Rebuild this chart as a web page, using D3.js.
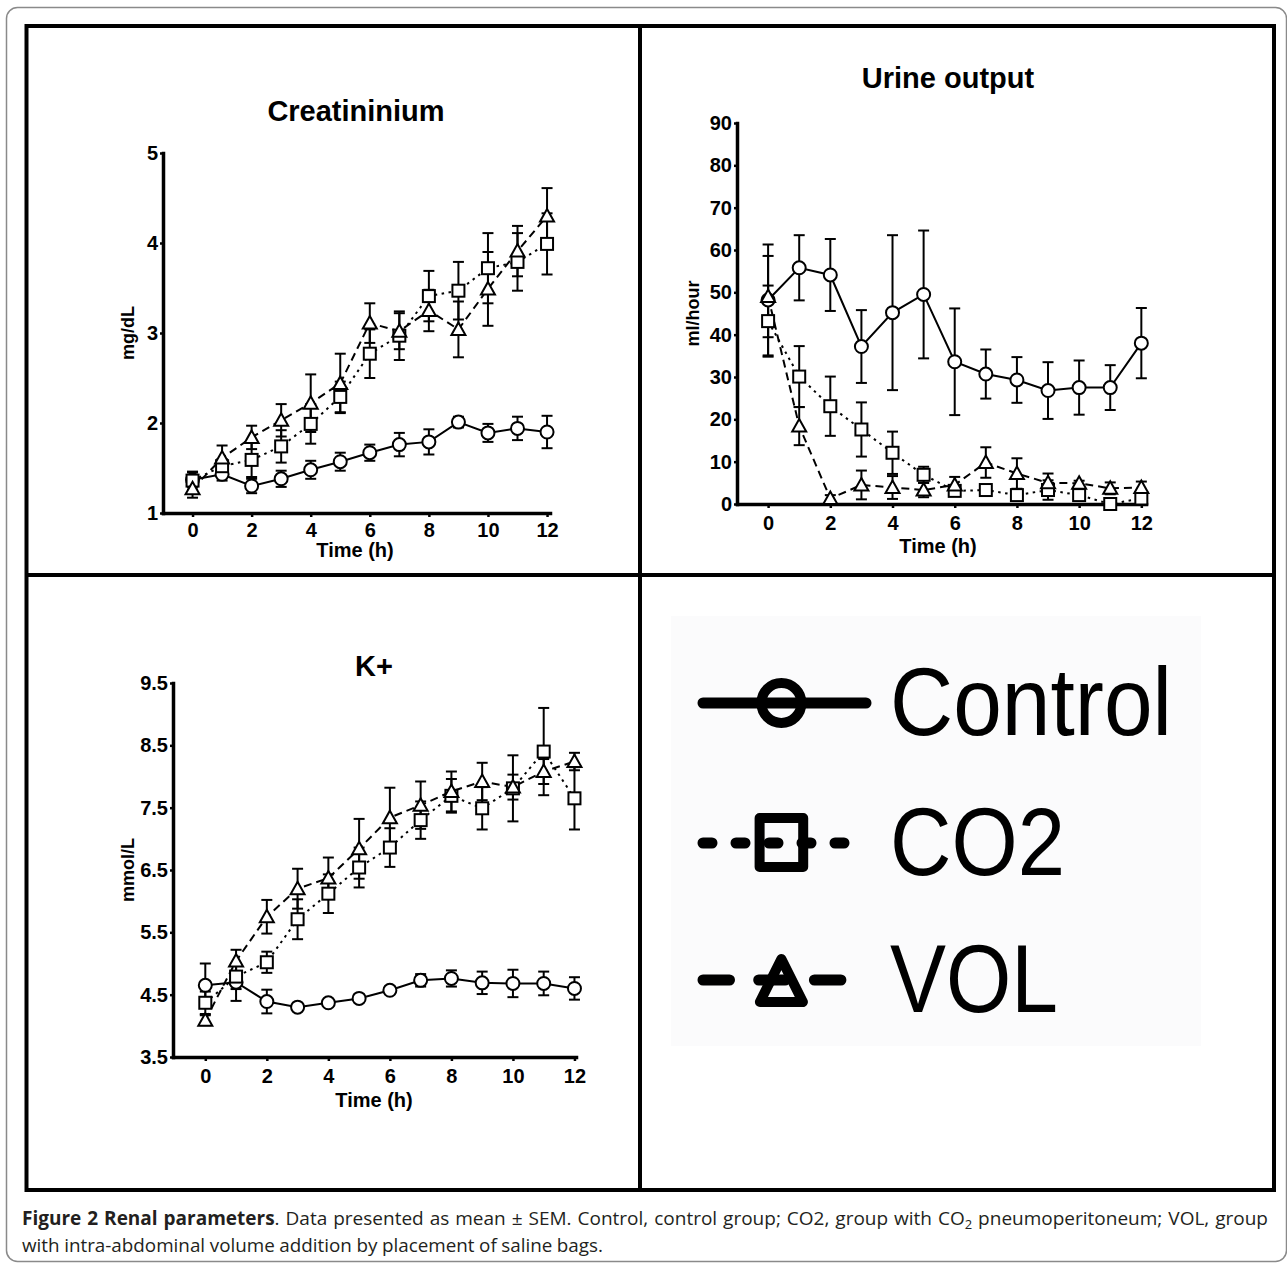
<!DOCTYPE html>
<html>
<head>
<meta charset="utf-8">
<script src="https://cdn.jsdelivr.net/npm/d3@7"></script>
<style>
  body { margin: 0; background: #fff; }
  svg { display: block; }
  .axis .domain { stroke: #000; stroke-width: 3.5; stroke-linecap: square; }
  .axis .tick line { stroke: #000; stroke-width: 2.5; }
  .axis text { font-family: "Liberation Sans", Arial, sans-serif; font-weight: bold; font-size: 20px; fill: #000; }
</style>
</head>
<body>
<div id="chart"></div>
<script>
// hours after start
var hours = [0, 1, 2, 3, 4, 5, 6, 7, 8, 9, 10, 11, 12];
var groups = ["Control", "CO2", "VOL"];

// Creatininium (mg/dL), mean and SEM
var creatControl    = [1.37, 1.43, 1.30, 1.38, 1.48, 1.57, 1.67, 1.76, 1.79, 2.01, 1.89, 1.94, 1.90];
var creatControlSem = [0.08, 0.07, 0.08, 0.09, 0.10, 0.10, 0.09, 0.13, 0.14, 0.06, 0.10, 0.13, 0.18];
var creatCO2        = [1.36, 1.52, 1.59, 1.74, 1.99, 2.29, 2.77, 2.97, 3.41, 3.47, 3.72, 3.79, 3.99];
var creatCO2Sem     = [0.10, 0.08, 0.19, 0.18, 0.22, 0.17, 0.27, 0.27, 0.28, 0.32, 0.39, 0.32, 0.34];
var creatVOL        = [1.27, 1.61, 1.84, 2.03, 2.22, 2.44, 3.11, 3.02, 3.25, 3.04, 3.49, 3.91, 4.30];
var creatVOLSem     = [0.10, 0.14, 0.13, 0.18, 0.32, 0.33, 0.22, 0.20, 0.23, 0.31, 0.41, 0.28, 0.31];

// Urine output (ml/hour)
var urineControl    = [48.2, 55.8, 54.1, 37.2, 45.2, 49.5, 33.6, 30.7, 29.3, 26.8, 27.5, 27.5, 38.0];
var urineControlSem = [13.1, 7.7, 8.5, 8.6, 18.3, 15.1, 12.6, 5.8, 5.4, 6.7, 6.4, 5.3, 8.3];
var urineCO2        = [43.2, 30.1, 23.1, 17.6, 12.1, 6.9, 3.1, 3.3, 2.1, 3.3, 2.1, 0.0, 1.3];
var urineCO2Sem     = [8.4, 7.2, 7.0, 6.4, 5.0, 1.9, 1.2, 0.8, 1.0, 2.3, 1.3, 0.4, 0.8];
var urineVOL        = [49.0, 18.4, 1.3, 4.5, 3.9, 3.3, 4.5, 9.8, 7.2, 5.0, 4.9, 3.7, 3.9];
var urineVOLSem     = [9.6, 4.5, 0.8, 3.4, 2.7, 1.7, 1.9, 3.6, 3.6, 2.2, 0.6, 1.4, 1.4];

// K+ (mmol/L)
var kControl    = [4.65, 4.70, 4.39, 4.30, 4.37, 4.44, 4.57, 4.73, 4.76, 4.69, 4.68, 4.68, 4.60];
var kControlSem = [0.35, 0.30, 0.19, 0.03, 0.03, 0.06, 0.06, 0.10, 0.13, 0.18, 0.22, 0.19, 0.18];
var kCO2        = [4.37, 4.79, 5.02, 5.71, 6.12, 6.54, 6.86, 7.30, 7.69, 7.49, 7.81, 8.40, 7.65];
var kCO2Sem     = [0.18, 0.20, 0.17, 0.32, 0.31, 0.32, 0.31, 0.30, 0.27, 0.34, 0.53, 0.70, 0.50];
var kVOL        = [4.09, 5.04, 5.75, 6.20, 6.37, 6.84, 7.34, 7.54, 7.76, 7.92, 7.83, 8.08, 8.24];
var kVOLSem     = [0.08, 0.18, 0.27, 0.32, 0.33, 0.48, 0.48, 0.38, 0.32, 0.30, 0.20, 0.20, 0.14];

var xTicks = [0, 2, 4, 6, 8, 10, 12];
var creatTicks = [1, 2, 3, 4, 5];
var urineTicks = [0, 10, 20, 30, 40, 50, 60, 70, 80, 90];
var kTicks = [3.5, 4.5, 5.5, 6.5, 7.5, 8.5, 9.5];

var FONT = "'Liberation Sans', Arial, sans-serif";
var W = 1287, H = 1263;
var svg = d3.select("#chart").append("svg")
    .attr("width", W)
    .attr("height", H);

svg.append("rect").attr("width", W).attr("height", H).attr("fill", "#fff");

// grey rounded outline of the figure box
svg.append("rect")
    .attr("x", 6.5).attr("y", 7.5)
    .attr("width", 1280).attr("height", 1254)
    .attr("rx", 11)
    .attr("fill", "none")
    .attr("stroke", "#8a8a8a")
    .attr("stroke-width", 1.5);

// the black panel frame
var frame = svg.append("g").attr("stroke", "#000").attr("stroke-width", 4).attr("fill", "none");
frame.append("rect").attr("x", 26.5).attr("y", 26).attr("width", 1247.5).attr("height", 1164);
frame.append("line").attr("x1", 640).attr("x2", 640).attr("y1", 26).attr("y2", 1190);
frame.append("line").attr("x1", 26.5).attr("x2", 1274).attr("y1", 575).attr("y2", 575);

var styles = {
    Control: { dash: null, marker: "circle" },
    CO2: { dash: "2.5,4.5", marker: "square" },
    VOL: { dash: "8,5", marker: "triangle" }
};

function drawMarker(sel, type, cx, cy) {
    if (type === "circle") {
        sel.append("circle").attr("cx", cx).attr("cy", cy).attr("r", 6.5);
    } else if (type === "square") {
        sel.append("rect").attr("x", cx - 6).attr("y", cy - 6).attr("width", 12).attr("height", 12);
    } else {
        sel.append("path").attr("d", "M" + cx + "," + (cy - 7) + "L" + (cx + 7) + "," + (cy + 5.5) + "L" + (cx - 7) + "," + (cy + 5.5) + "Z");
    }
}

function drawPanel(p) {
    var g = svg.append("g");
    var x = d3.scaleLinear().domain(p.xDomain).range(p.xRange);
    var y = d3.scaleLinear().domain(p.yDomain).range(p.yRange);

    g.append("g")
        .attr("class", "axis")
        .attr("transform", "translate(" + p.xRange[0] + ",0)")
        .call(d3.axisLeft(y).tickValues(p.yTicks).tickFormat(p.fmt).tickSize(3).tickSizeOuter(0).tickPadding(2));

    g.append("g")
        .attr("class", "axis")
        .attr("transform", "translate(0," + p.yRange[0] + ")")
        .call(d3.axisBottom(x).tickValues(xTicks).tickFormat(d3.format("d")).tickSize(4).tickSizeOuter(0).tickPadding(p.xPad));

    g.append("text")
        .attr("x", p.titleX).attr("y", p.titleY)
        .attr("text-anchor", "middle")
        .attr("font-family", FONT)
        .attr("font-weight", "bold")
        .attr("font-size", 29)
        .text(p.title);

    g.append("text")
        .attr("x", p.timeX).attr("y", p.timeY)
        .attr("text-anchor", "middle")
        .attr("font-family", FONT)
        .attr("font-weight", "bold")
        .attr("font-size", 20)
        .text("Time (h)");

    var yMid = (p.yRange[0] + p.yRange[1]) / 2;
    g.append("text")
        .attr("transform", "translate(" + p.yLabelX + "," + yMid + ") rotate(-90)")
        .attr("text-anchor", "middle")
        .attr("font-family", FONT)
        .attr("font-weight", "bold")
        .attr("font-size", 18)
        .text(p.yLabel);

    var line = d3.line()
        .x(function(d) { return x(d.h); })
        .y(function(d) { return y(d.v); });

    p.series.forEach(function(s) {
        var pts = hours.map(function(h, i) { return { h: h, v: s.values[i], e: s.sem[i] }; });
        g.append("path")
            .datum(pts)
            .attr("d", line)
            .attr("fill", "none")
            .attr("stroke", "#000")
            .attr("stroke-width", 2)
            .attr("stroke-dasharray", styles[s.name].dash);
        s.pts = pts;
    });

    p.series.forEach(function(s) {
        var eb = g.append("g").attr("stroke", "#000").attr("stroke-width", 2);
        s.pts.forEach(function(d) {
            if (d.e <= 0) return;
            var cx = x(d.h), y0 = y(d.v - d.e), y1 = y(d.v + d.e);
            if (d.v - d.e < p.yDomain[0]) y0 = y(p.yDomain[0]);
            eb.append("line").attr("x1", cx).attr("x2", cx).attr("y1", y0).attr("y2", y1);
            eb.append("line").attr("x1", cx - 5.5).attr("x2", cx + 5.5).attr("y1", y1).attr("y2", y1);
            eb.append("line").attr("x1", cx - 5.5).attr("x2", cx + 5.5).attr("y1", y0).attr("y2", y0);
        });
    });

    p.series.forEach(function(s) {
        var mg = g.append("g").attr("fill", "#fff").attr("stroke", "#000").attr("stroke-width", 2);
        s.pts.forEach(function(d) {
            drawMarker(mg, styles[s.name].marker, x(d.h), y(d.v));
        });
    });
}

drawPanel({
    title: "Creatininium", titleX: 356, titleY: 121,
    yLabel: "mg/dL", yLabelX: 134,
    xDomain: [-1, 12.1], xRange: [163, 550],
    yDomain: [1, 5], yRange: [513, 153], yTicks: creatTicks, fmt: d3.format("d"),
    xPad: 6, timeX: 355, timeY: 557,
    series: [
        { name: "Control", values: creatControl, sem: creatControlSem },
        { name: "CO2", values: creatCO2, sem: creatCO2Sem },
        { name: "VOL", values: creatVOL, sem: creatVOLSem }
    ]
});

drawPanel({
    title: "Urine output", titleX: 948, titleY: 88,
    yLabel: "ml/hour", yLabelX: 699,
    xDomain: [-1, 12.15], xRange: [737, 1146],
    yDomain: [0, 90], yRange: [504, 123], yTicks: urineTicks, fmt: d3.format("d"),
    xPad: 8, timeX: 938, timeY: 553,
    series: [
        { name: "Control", values: urineControl, sem: urineControlSem },
        { name: "CO2", values: urineCO2, sem: urineCO2Sem },
        { name: "VOL", values: urineVOL, sem: urineVOLSem }
    ]
});

drawPanel({
    title: "K+", titleX: 374, titleY: 676,
    yLabel: "mmol/L", yLabelX: 134,
    xDomain: [-1.05, 12.05], xRange: [173, 576],
    yDomain: [3.5, 9.5], yRange: [1057, 683], yTicks: kTicks, fmt: d3.format(".1f"),
    xPad: 8, timeX: 374, timeY: 1107,
    series: [
        { name: "Control", values: kControl, sem: kControlSem },
        { name: "CO2", values: kCO2, sem: kCO2Sem },
        { name: "VOL", values: kVOL, sem: kVOLSem }
    ]
});

// legend panel (bottom right)
var leg = svg.append("g");
leg.append("rect")
    .attr("x", 671).attr("y", 616)
    .attr("width", 530).attr("height", 430)
    .attr("fill", "#fbfbfc");

var legRows = [
    { name: "Control", y: 703, dash: null, textLen: 282 },
    { name: "CO2", y: 843, dash: "9,24", textLen: 175 },
    { name: "VOL", y: 980, dash: "26.5,29.2", textLen: 168 }
];

legRows.forEach(function(r) {
    leg.append("line")
        .attr("x1", 703).attr("x2", 866)
        .attr("y1", r.y).attr("y2", r.y)
        .attr("stroke", "#000")
        .attr("stroke-width", 11)
        .attr("stroke-linecap", "round")
        .attr("stroke-dasharray", r.dash);
    var m = leg.append("g").attr("fill", "none").attr("stroke", "#000").attr("stroke-width", 10).attr("stroke-linejoin", "round");
    var cx = 781.4;
    if (styles[r.name].marker === "circle") {
        m.append("circle").attr("cx", cx).attr("cy", r.y).attr("r", 20);
    } else if (styles[r.name].marker === "square") {
        m.append("rect").attr("x", cx - 21.8).attr("y", r.y - 25).attr("width", 43.6).attr("height", 49);
    } else {
        m.append("path").attr("d", "M" + cx + "," + (r.y - 21) + "L" + (cx + 21.5) + "," + (r.y + 22) + "L" + (cx - 21.5) + "," + (r.y + 22) + "Z");
    }
    leg.append("text")
        .attr("x", 890).attr("y", r.y + 32)
        .attr("font-family", FONT)
        .attr("font-size", 97)
        .attr("textLength", r.textLen)
        .attr("lengthAdjust", "spacingAndGlyphs")
        .text(r.name);
});

// caption, justified word by word
var cap = svg.append("g")
    .attr("font-family", "'Open Sans', sans-serif")
    .attr("font-size", 19)
    .attr("fill", "#231f20");

var capLine1 = [
    [["Figure", "b"]], [["2", "b"]], [["Renal", "b"]], [["parameters", "b"], [".", "n"]],
    [["Data", "n"]], [["presented", "n"]], [["as", "n"]], [["mean", "n"]], [["\u00b1", "n"]], [["SEM.", "n"]],
    [["Control,", "n"]], [["control", "n"]], [["group;", "n"]], [["CO2,", "n"]], [["group", "n"]], [["with", "n"]],
    [["CO", "n"], ["2", "sub"]], [["pneumoperitoneum;", "n"]], [["VOL,", "n"]], [["group", "n"]]
];
var capLine2 = "with intra-abdominal volume addition by placement of saline bags.".split(" ").map(function(w) { return [[w, "n"]]; });

function drawWords(words, x0, x1, baseline, fit) {
    var nodes = words.map(function(word) {
        var t = cap.append("text").attr("y", baseline);
        word.forEach(function(part) {
            var ts = t.append("tspan").text(part[0]);
            if (part[1] === "b") ts.attr("font-weight", "bold");
            if (part[1] === "sub") ts.attr("font-size", 13).attr("dy", 4);
        });
        return t;
    });
    var widths = nodes.map(function(n) { return n.node().getComputedTextLength(); });
    var total = d3.sum(widths);
    // squeeze glyphs a little if the words alone are too wide for normal spacing
    var gap = (x1 - x0 - total) / (words.length - 1);
    var scale = 1;
    if (gap < 4.5) {
        scale = (x1 - x0 - 4.5 * (words.length - 1)) / total;
        gap = 4.5;
    }
    var xc = x0;
    nodes.forEach(function(n, i) {
        n.attr("transform", "translate(" + xc + ",0) scale(" + scale + ",1)");
        xc += widths[i] * scale + gap;
    });
}

drawWords(capLine1, 22, 1268, 1225);
drawWords(capLine2, 22, 603, 1252);
</script>
</body>
</html>
